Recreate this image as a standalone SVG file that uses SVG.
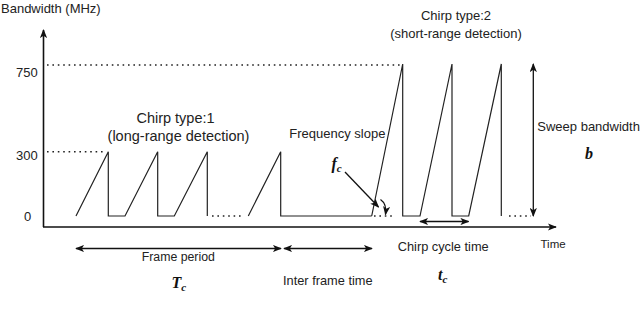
<svg xmlns="http://www.w3.org/2000/svg" width="640" height="313" viewBox="0 0 640 313">
<defs>
<marker id="ah" viewBox="0 0 10 8" refX="9" refY="4" markerWidth="9" markerHeight="7.2" markerUnits="userSpaceOnUse" orient="auto-start-reverse">
<path d="M0,0 L10,4 L0,8 L2.5,4 Z" fill="#111"/>
</marker>
</defs>
<style>
.ln{stroke:#222;stroke-width:1.2;fill:none;stroke-linejoin:miter}
.ax{stroke:#111;stroke-width:1.6;fill:none}
.dot{stroke:#222;stroke-width:1.6;fill:none;stroke-dasharray:1.6 3.8}
.ar{stroke:#111;stroke-width:1.3;fill:none}
.t{font-family:"Liberation Sans",Arial,sans-serif;fill:#222}
.m{font-family:"Liberation Serif","DejaVu Serif",serif;font-style:italic;font-weight:bold;fill:#111}
</style>
<rect width="640" height="313" fill="#fff"/>
<g id="axes">
<line class="ax" x1="43.5" y1="227" x2="43.5" y2="30" marker-end="url(#ah)"/>
<line class="ax" x1="43" y1="227" x2="556" y2="227" marker-end="url(#ah)"/>
<text class="t" x="1" y="13" font-size="13">Bandwidth (MHz)</text>
<text class="t" x="16" y="77" font-size="13">750</text>
<text class="t" x="16" y="160" font-size="13">300</text>
<text class="t" x="24" y="221" font-size="13">0</text>
<text class="t" x="540.5" y="248" font-size="11.5">Time</text>
</g>
<g id="guides">
<line class="dot" x1="47" y1="65" x2="401" y2="65"/>
<line class="dot" x1="47" y1="151.7" x2="106" y2="151.7"/>
<line class="dot" x1="212" y1="216" x2="242" y2="216"/>
<line class="dot" x1="374" y1="216" x2="394" y2="216"/>
<line class="dot" x1="509" y1="216" x2="531" y2="216"/>
</g>
<g id="chirp1">
<polyline class="ln" points="76,216 108.3,151.7 108.3,216 125,216 157.7,151.7 157.7,216 174.3,216 207.3,151.7 207.3,216"/>
<polyline class="ln" points="248.3,216 280.7,151.7 280.7,216 371.7,216"/>
<text class="t" x="175.5" y="123" font-size="14.5" text-anchor="middle">Chirp type:1</text>
<text class="t" x="178.5" y="141" font-size="14.5" text-anchor="middle">(long-range detection)</text>
</g>
<g id="chirp2">
<polyline class="ln" points="371.7,216 402.7,64 402.7,216 420,216 452,64 452,216 468.7,216 501.3,64 501.3,216"/>
<text class="t" x="456" y="20" font-size="13" text-anchor="middle">Chirp type:2</text>
<text class="t" x="456" y="38" font-size="13" text-anchor="middle">(short-range detection)</text>
</g>
<g id="connectors">
<line class="ar" x1="76" y1="248.5" x2="281" y2="248.5" marker-start="url(#ah)" marker-end="url(#ah)"/>
<line class="ar" x1="284" y1="248.5" x2="372" y2="248.5" marker-start="url(#ah)" marker-end="url(#ah)"/>
<line class="ar" x1="420" y1="221.5" x2="468.5" y2="221.5" marker-start="url(#ah)" marker-end="url(#ah)"/>
<line class="ar" x1="533.3" y1="64" x2="533.3" y2="216" marker-start="url(#ah)" marker-end="url(#ah)"/>
<line class="ar" x1="345" y1="172" x2="378.5" y2="207" marker-end="url(#ah)"/>
<path class="ar" d="M380.5,199.5 Q387,204 385.5,214.5" marker-end="url(#ah)"/>
</g>
<g id="labels">
<text class="t" x="289.3" y="138" font-size="13">Frequency slope</text>
<text class="t" x="537.3" y="130.5" font-size="13">Sweep bandwidth</text>
<text class="m" x="585" y="159" font-size="16">b</text>
<text class="m" x="331.5" y="169" font-size="16">f<tspan font-size="11" dy="3">c</tspan></text>
<text class="t" x="178.3" y="261" font-size="12.3" text-anchor="middle">Frame period</text>
<text class="t" x="283" y="285" font-size="12.8">Inter frame time</text>
<text class="m" x="171.5" y="288" font-size="16" font-weight="normal">T<tspan font-size="11" dy="3">c</tspan></text>
<text class="t" x="397.7" y="251" font-size="12.8">Chirp cycle time</text>
<text class="m" x="438" y="280" font-size="16">t<tspan font-size="11" dy="3">c</tspan></text>
</g>
</svg>
